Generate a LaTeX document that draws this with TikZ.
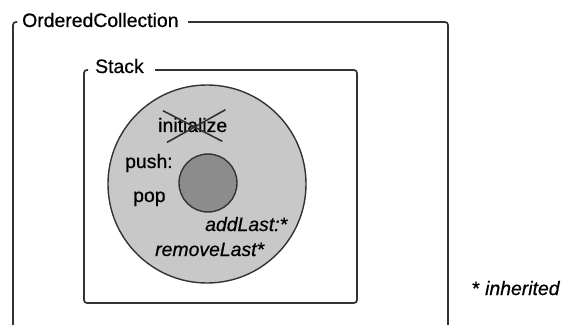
\documentclass[tikz,border=0pt]{standalone}
\usepackage{fontspec}
\setmainfont{Liberation Sans}[FakeBold=0.6, ItalicFeatures={FakeBold=0.6}]
\usepackage{xcolor}
\usepackage{tikz}
\usetikzlibrary{positioning}
\definecolor{cLine}{HTML}{333333}
\definecolor{cDisc}{HTML}{C8C8C8}
\definecolor{cCore}{HTML}{8C8C8C}
\tikzset{
  frame/.style = {draw=cLine, line width=1.7pt, rounded corners=3pt},
  ttl/.style   = {anchor=base west, inner sep=0pt, font=\fontsize{19.4}{23}\selectfont},
  msg/.style   = {anchor=base west, inner sep=0pt, font=\fontsize{19.4}{23}\selectfont},
  inh/.style   = {msg, font=\fontsize{19.4}{23}\selectfont\itshape},
  disc/.style  = {circle, draw=cLine, line width=1.4pt, fill=cDisc, inner sep=0pt,
                  minimum size=198pt},
  kern/.style  = {circle, draw=cLine, line width=1.4pt, fill=cCore, inner sep=0pt,
                  minimum size=58pt},
  cross/.style = {draw=cLine, line width=1.6pt},
}

\begin{document}
\begin{tikzpicture}[x=1pt, y=1pt]
  \useasboundingbox (0,0) rectangle (561,324);
  \node[ttl] (oc) at (22,297) {OrderedCollection};
  \draw[frame] (17,302) -- (13,302) -- (13,-5);
  \draw[frame] (188,302) -- (448,302) -- (448,-5);

  \node[ttl] (stk) at (95,251) {Stack};
  \draw[frame] (88,254) -- (84,254) -- (84,21) -- (357,21) -- (357,254) -- (155,254);

  \node[disc] (obj) at (207,140) {};
  \node[kern] (state) at (208,141) {};

  \node[msg] (init) at (158,192) {initialize};
  \draw[cross] ([shift={(5pt,7pt)}]init.north west) -- ([shift={(-5pt,-9pt)}]init.south east);
  \draw[cross] ([shift={(-2pt,8pt)}]init.north east) -- ([shift={(9pt,-10pt)}]init.south west);
  \node[msg] (push) at (125,156) {push:};
  \node[msg] (pop) at (133,122) {pop};
  \node[inh] (addl) at (205,93) {addLast:*};
  \node[inh] (reml) at (155,68) {removeLast*};

  \node[msg] (note) at (472,29) {* \textit{inherited}};
\end{tikzpicture}
\end{document}
